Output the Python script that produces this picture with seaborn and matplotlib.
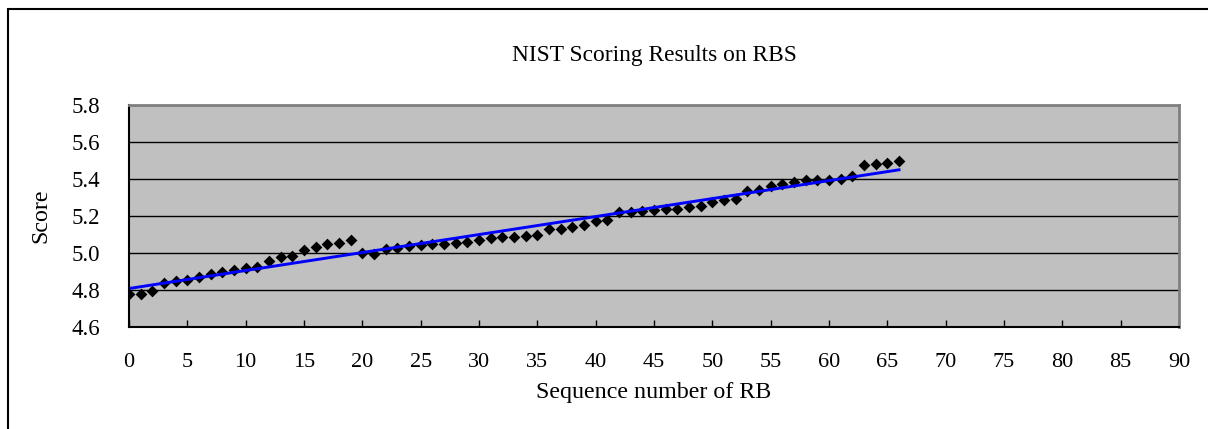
import matplotlib
matplotlib.use("Agg")
import matplotlib.pyplot as plt
from matplotlib.patches import Rectangle
import seaborn as sns
import numpy as np

# datos (puntuacion NIST por RB)
seq = list(range(67))
score = [4.779, 4.779, 4.793, 4.836, 4.847, 4.854, 4.870, 4.887, 4.897, 4.906,
         4.917, 4.926, 4.959, 4.977, 4.982, 5.016, 5.034, 5.050, 5.054, 5.070,
         4.998, 4.995, 5.022, 5.027, 5.036, 5.043, 5.050, 5.050, 5.054, 5.061,
         5.072, 5.081, 5.086, 5.086, 5.090, 5.095, 5.131, 5.131, 5.139, 5.151,
         5.171, 5.176, 5.223, 5.221, 5.229, 5.230, 5.236, 5.238, 5.247, 5.252,
         5.275, 5.285, 5.292, 5.337, 5.340, 5.360, 5.373, 5.382, 5.394, 5.392,
         5.392, 5.398, 5.418, 5.477, 5.482, 5.486, 5.498]

x_ticks = list(range(0, 91, 5))
y_ticks = [4.6, 4.8, 5.0, 5.2, 5.4, 5.6, 5.8]

plt.rcParams['font.family'] = ['Liberation Serif', 'DejaVu Serif']

fig = plt.figure(figsize=(12.08, 4.29), dpi=100)
ax = fig.add_axes([129 / 1208, 1 - 327 / 429, 1050 / 1208, 222 / 429])
ax.set_facecolor('#C0C0C0')

sns.regplot(x=seq, y=score, ax=ax, ci=None, marker='D',
            scatter_kws={'color': 'black', 's': 36, 'linewidths': 0, 'alpha': 1},
            line_kws={'color': '#0000FF', 'lw': 2.1})

ax.set_xlim(0, 90)
ax.set_ylim(4.6, 5.8)
ax.set_xticks(x_ticks)
ax.set_yticks(y_ticks)
ax.set_yticklabels([f"{v:.1f}" for v in y_ticks])
ax.grid(axis='y', color='black', lw=1)
ax.set_axisbelow(True)
ax.tick_params(axis='x', direction='in', length=5, width=1, pad=19, labelsize=16)
ax.tick_params(axis='y', length=0, pad=21, labelsize=16.5)

for s in ['left', 'bottom']:
    ax.spines[s].set_color('black')
    ax.spines[s].set_linewidth(1.5)
for s in ['top', 'right']:
    ax.spines[s].set_color('#808080')
    ax.spines[s].set_linewidth(2)

ax.set_xlabel("Sequence number of RB", fontsize=17.3)
ax.xaxis.set_label_coords(0.5, -0.293)
ax.xaxis.label.set_va('center')
ax.set_ylabel("Score", fontsize=17.3)
ax.yaxis.set_label_coords(-0.084, 0.5)
ax.yaxis.label.set_va('center')

fig.text(654 / 1208, 1 - 55 / 429, "NIST Scoring Results on RBS",
         fontsize=16.8, ha='center', va='center')

# marco exterior del grafico
fig.add_artist(Rectangle((8 / 1208, -0.1), 1.2, 1.1 - 9 / 429,
                         transform=fig.transFigure, fill=False,
                         ec='black', lw=1.5))

fig.savefig("out.png", dpi=100)
